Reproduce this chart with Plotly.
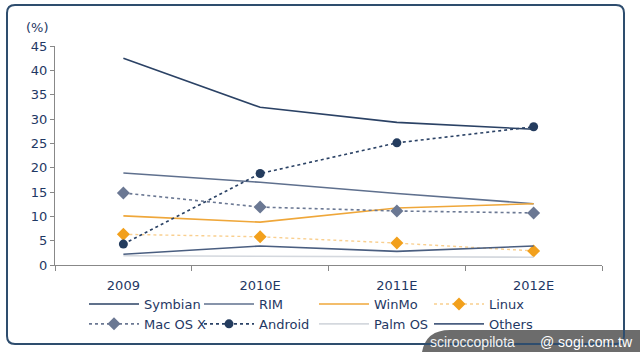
import plotly.graph_objects as go

categories = ["2009", "2010E", "2011E", "2012E"]
symbian = [42.5, 32.4, 29.3, 27.9]
rim = [18.9, 17.0, 14.7, 12.6]
winmo = [10.1, 8.8, 11.7, 12.6]
linux = [6.3, 5.8, 4.5, 2.9]
macosx = [14.8, 11.9, 11.1, 10.7]
android = [4.3, 18.8, 25.1, 28.4]
palmos = [1.9, 1.8, 1.7, 1.6]
others = [2.2, 3.9, 2.8, 3.9]

W, H = 640, 352
L, R, T, B = 55, 38, 46, 87
PW, PH = W - L - R, H - T - B

def px(x):
    return (x - L) / PW

def py(y):
    return (H - B - y) / PH

NAVY = "#1F3864"
FONT = "DejaVu Sans"

series = [
    ("Symbian", symbian, dict(color="#2B4265", width=1.6), None),
    ("RIM", rim, dict(color="#5F708E", width=1.6), None),
    ("WinMo", winmo, dict(color="#EFA73A", width=1.6), None),
    ("Linux", linux, dict(color="#F9CF8F", width=1.4, dash="dot"), dict(symbol="diamond", size=10, color="#F2A01C")),
    ("Mac OS X", macosx, dict(color="#6B7893", width=1.6, dash="dot"), dict(symbol="diamond", size=10, color="#6B7893")),
    ("Android", android, dict(color="#2B4265", width=1.6, dash="dot"), dict(symbol="circle", size=9, color="#243C5E")),
    ("Palm OS", palmos, dict(color="#D4D8DE", width=1.6), None),
    ("Others", others, dict(color="#4A5E80", width=1.6), None),
]

fig = go.Figure()
for name, vals, line, marker in series:
    fig.add_trace(go.Scatter(
        x=categories, y=vals, name=name,
        mode="lines+markers" if marker else "lines",
        line=line, marker=marker,
    ))

shapes = []
# watermark band
shapes.append(dict(
    type="path", xref="paper", yref="paper",
    path=f"M {px(422)},{py(352)} Q {px(426)},{py(330)} {px(450)},{py(330)} L {px(640)},{py(330)} L {px(640)},{py(352)} Z",
    fillcolor="rgba(95,95,95,0.92)", line=dict(width=0), layer="below",
))
# frame
x0, y0, x1, y1, r = 7, 5, 624, 344, 8
path = (f"M {px(x0+r)},{py(y0)} L {px(x1-r)},{py(y0)} Q {px(x1)},{py(y0)} {px(x1)},{py(y0+r)} "
        f"L {px(x1)},{py(y1-r)} Q {px(x1)},{py(y1)} {px(x1-r)},{py(y1)} "
        f"L {px(x0+r)},{py(y1)} Q {px(x0)},{py(y1)} {px(x0)},{py(y1-r)} "
        f"L {px(x0)},{py(y0+r)} Q {px(x0)},{py(y0)} {px(x0+r)},{py(y0)} Z")
shapes.append(dict(type="path", xref="paper", yref="paper", path=path,
                   line=dict(color="#2E4D6E", width=2), layer="above"))

annotations = [
    dict(text="(%)", xref="paper", yref="paper", x=px(24), y=py(28), xanchor="left", yanchor="middle",
         showarrow=False, font=dict(family=FONT, size=13, color=NAVY)),
    dict(text="sciroccopilota", xref="paper", yref="paper", x=px(428), y=py(342), xanchor="left", yanchor="middle",
         showarrow=False, font=dict(family="Liberation Sans", size=14, color="#F2F2F2")),
    dict(text="@ sogi.com.tw", xref="paper", yref="paper", x=px(635), y=py(342), xanchor="right", yanchor="middle",
         showarrow=False, font=dict(family="Liberation Sans", size=14, color="#FFFFFF")),
]

fig.update_layout(
    width=W, height=H,
    margin=dict(l=L, r=R, t=T, b=B, autoexpand=False),
    paper_bgcolor="white", plot_bgcolor="rgba(0,0,0,0)",
    font=dict(family=FONT, size=13, color=NAVY),
    showlegend=True,
    legend=dict(orientation="h", x=px(84), y=py(289), xanchor="left", yanchor="top",
                xref="paper", yref="paper", entrywidth=50, entrywidthmode="pixels",
                font=dict(family=FONT, size=13, color=NAVY), tracegroupgap=0,
                itemwidth=50, bgcolor="rgba(0,0,0,0)"),
    xaxis=dict(type="category", range=[-0.5, 3.5], showgrid=False, showline=True,
               linecolor="#888888", linewidth=1, ticks="outside", ticklen=5, tickcolor="#888888",
               tickson="boundaries", ticklabelstandoff=8, automargin=False,
               tickfont=dict(family=FONT, size=13, color=NAVY), fixedrange=True),
    yaxis=dict(range=[0, 45], dtick=5, showgrid=False, showline=True, linecolor="#888888", linewidth=1,
               ticks="outside", ticklen=4, tickcolor="#888888", zeroline=False, automargin=False,
               tickfont=dict(family=FONT, size=13, color=NAVY), fixedrange=True),
    shapes=shapes,
    annotations=annotations,
)

fig.write_html("out.html")
